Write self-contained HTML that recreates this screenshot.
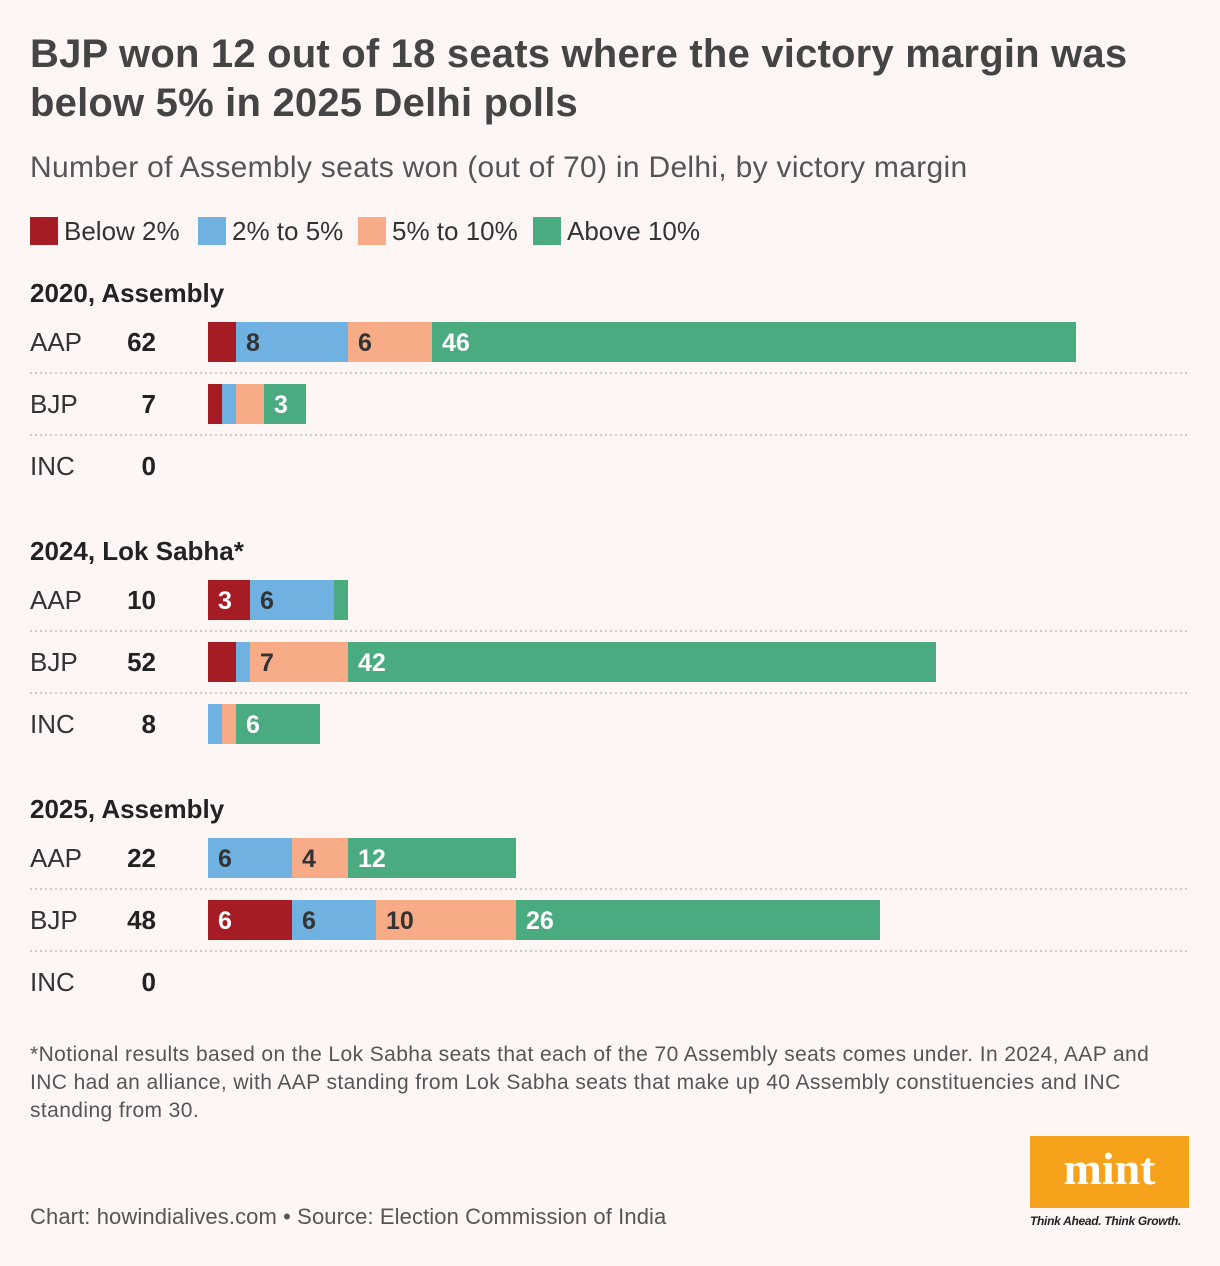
<!DOCTYPE html>
<html><head><meta charset="utf-8">
<style>
body{margin:0;background:#fdf6f4;font-family:"Liberation Sans",sans-serif;color:#333;}
#wrap{position:relative;width:1220px;height:1266px;overflow:hidden;}
.t{position:absolute;white-space:nowrap;}
</style></head><body>
<div id="wrap">
<div class="t" style="left:30px;top:30px;font-size:40px;font-weight:bold;color:#444;line-height:49px;letter-spacing:0.2px">BJP won 12 out of 18 seats where the victory margin was<br>below 5% in 2025 Delhi polls</div>
<div class="t" style="left:30px;top:151px;font-size:30px;color:#555;letter-spacing:0.3px">Number of Assembly seats won (out of 70) in Delhi, by victory margin</div>
<svg id="chart" width="1220" height="1266" style="position:absolute;left:0;top:0"></svg>
<div class="t" style="left:30px;top:1041px;font-size:21px;color:#555;line-height:28px;letter-spacing:0.4px">*Notional results based on the Lok Sabha seats that each of the 70 Assembly seats comes under. In 2024, AAP and<br>INC had an alliance, with AAP standing from Lok Sabha seats that make up 40 Assembly constituencies and INC<br>standing from 30.</div>
<div class="t" style="left:30px;top:1204px;font-size:22px;color:#555;letter-spacing:0.1px">Chart: howindialives.com • Source: Election Commission of India</div>
<div style="position:absolute;left:1030px;top:1136px;width:159px;height:72px;background:#f7a21b;color:#fff;font-family:'Liberation Serif',serif;font-weight:bold;font-size:46px;text-align:center;line-height:66px">mint</div>
<div class="t" style="left:1030px;top:1214px;font-size:12px;font-style:italic;font-weight:bold;color:#222;letter-spacing:-0.3px">Think Ahead. Think Growth.</div>
</div>
<script>
const categories=["Below 2%","2% to 5%","5% to 10%","Above 10%"];
const groups=["2020, Assembly","2024, Lok Sabha*","2025, Assembly"];
const parties=["AAP","BJP","INC"];
const v2020=[[2,8,6,46],[1,1,2,3],[0,0,0,0]];
const v2024=[[3,6,0,1],[2,1,7,42],[0,1,1,6]];
const v2025=[[0,6,4,12],[6,6,10,26],[0,0,0,0]];
const colors=["#a51c24","#6fb2e2","#f7ab86","#4aab80"];
const labelColors=["#fff","#333","#333","#fff"];
const svg=document.getElementById('chart');
const NS="http://www.w3.org/2000/svg";
function mk(tag,a){const e=document.createElementNS(NS,tag);for(const k in a)e.setAttribute(k,a[k]);svg.appendChild(e);return e;}
const x0=208,pxPer=14;
function xs(v){return x0+v*pxPer;}
let lx=30;
const legW=[168,160,175,160];
categories.forEach((c,i)=>{
 const r=mk('rect',{x:lx,y:217,width:28,height:28,fill:colors[i]});
 
 
 const t=mk('text',{x:lx+34,y:240,'font-size':26,fill:'#333'});t.textContent=c;
 
 
 lx+=legW[i];
});
const all=[v2020,v2024,v2025];
all.forEach((g,gi)=>{
 const gy=292+gi*258;
 const h=mk('text',{x:30,y:gy+10,'font-size':26,'font-weight':'bold',fill:'#222'});h.textContent=groups[gi];
 
 
 g.forEach((vals,pi)=>{
  const top=322+gi*258+pi*62, cy=top+20;
  const pl=mk('text',{x:30,y:cy+9,'font-size':26,fill:'#333'});pl.textContent=parties[pi];
  
  
  const tot=vals.reduce((a,b)=>a+b,0);
  const tl=mk('text',{x:156,y:cy+9,'font-size':26,'font-weight':'bold','text-anchor':'end',fill:'#222'});tl.textContent=tot;
  
  
  let acc=0;
  vals.forEach((v,ci)=>{
   if(v>0){
    const r=mk('rect',{x:xs(acc),y:top,width:v*pxPer,height:40,fill:colors[ci]});
    
    
    if(v>=3){const t=mk('text',{x:xs(acc)+10,y:cy+9,'font-size':25,'font-weight':'bold',fill:labelColors[ci]});t.textContent=v;
     
     }
   }
   acc+=v;
  });
  if(pi<2){const l=mk('line',{x1:30,x2:1188,y1:top+51,y2:top+51,stroke:'#bbb','stroke-width':1.5,'stroke-dasharray':'2,3'});
   
   }
 });
});
</script>
</body></html>
